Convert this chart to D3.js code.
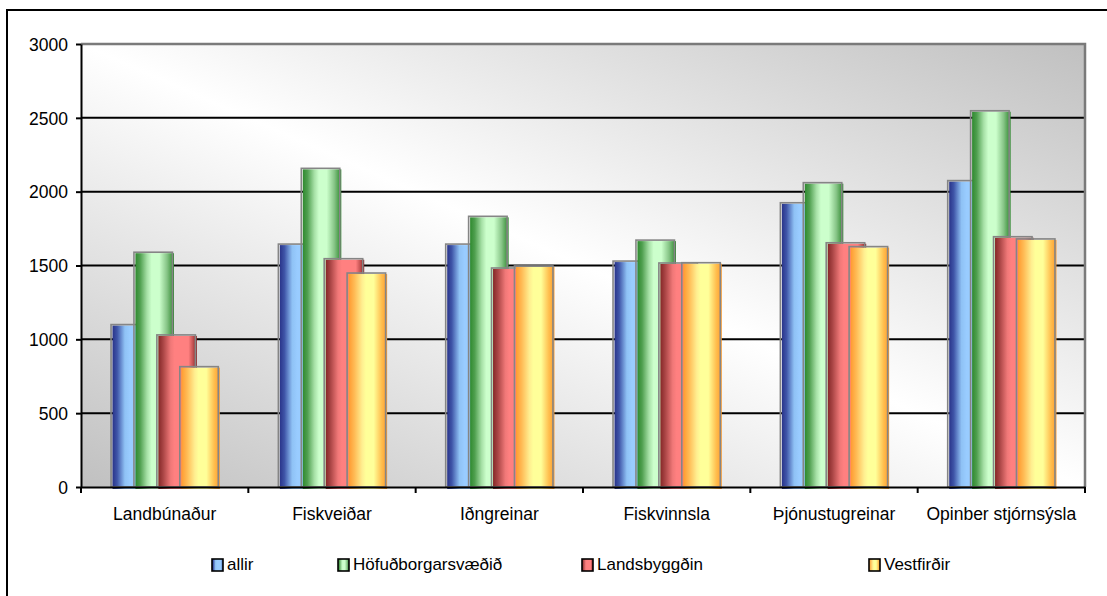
<!DOCTYPE html>
<html>
<head>
<meta charset="utf-8">
<script src="https://cdn.jsdelivr.net/npm/d3@7"></script>
<style>
  html, body { margin: 0; padding: 0; background: #ffffff; }
  svg { display: block; font-family: "Liberation Sans", Arial, sans-serif; }
</style>
</head>
<body>
<svg id="chart" width="1107" height="596"></svg>
<script>
// ---- data ----
const categories = ["Landbúnaður", "Fiskveiðar", "Iðngreinar", "Fiskvinnsla", "Þjónustugreinar", "Opinber stjórnsýsla"];
const seriesNames = ["allir", "Höfuðborgarsvæðið", "Landsbyggðin", "Vestfirðir"];
const allir = [1100, 1645, 1645, 1530, 1925, 2075];
const hofudborgarsvaedid = [1590, 2158, 1833, 1672, 2061, 2548];
const landsbyggdin = [1030, 1546, 1483, 1517, 1654, 1695];
const vestfirdir = [815, 1449, 1497, 1519, 1628, 1680];
const yTicks = [0, 500, 1000, 1500, 2000, 2500, 3000];

const seriesValues = [allir, hofudborgarsvaedid, landsbyggdin, vestfirdir];

// ---- layout ----
const svg = d3.select("#chart");
const plot = { left: 81, right: 1085, top: 44, bottom: 487 };

const y = d3.scaleLinear().domain([0, 3000]).range([plot.bottom, plot.top]);
const x = d3.scaleBand().domain(categories).range([plot.left, plot.right]).padding(0);

// ---- gradients ----
const defs = svg.append("defs");
const bg = defs.append("linearGradient").attr("id", "bgGrad")
  .attr("x1", 0).attr("y1", 1).attr("x2", 1).attr("y2", 0);
bg.append("stop").attr("offset", 0).attr("stop-color", "#c0c0c0");
bg.append("stop").attr("offset", 0.5).attr("stop-color", "#ffffff");
bg.append("stop").attr("offset", 1).attr("stop-color", "#c0c0c0");

const gradStops = [
  [[0, "#29348a"], [0.12, "#3f55a8"], [0.32, "#8fc2f5"], [0.45, "#99ccff"], [0.8, "#99ccff"], [1, "#3f5fb0"]],
  [[0, "#2f8a2f"], [0.12, "#4f9f4f"], [0.3, "#a6e0a6"], [0.42, "#ccffcc"], [0.62, "#ccffcc"], [0.82, "#86c486"], [1, "#2a862a"]],
  [[0, "#862828"], [0.12, "#a84444"], [0.32, "#f07878"], [0.42, "#ff8080"], [0.78, "#ff8080"], [0.9, "#c05050"], [1, "#861c1c"]],
  [[0, "#ff9a30"], [0.15, "#ffbb55"], [0.35, "#ffee90"], [0.45, "#ffff99"], [0.65, "#ffff99"], [0.85, "#ffc050"], [1, "#ff9a2a"]]
];
gradStops.forEach((stops, i) => {
  const g = defs.append("linearGradient").attr("id", "barGrad" + i)
    .attr("x1", 0).attr("y1", 0).attr("x2", 1).attr("y2", 0);
  stops.forEach(s => g.append("stop").attr("offset", s[0]).attr("stop-color", s[1]));
});

// ---- outer frame ----
svg.append("rect").attr("x", 7).attr("y", 10).attr("width", 1120).attr("height", 620)
  .attr("fill", "#ffffff").attr("stroke", "#000000").attr("stroke-width", 2);

// ---- plot background ----
svg.append("rect").attr("x", plot.left).attr("y", plot.top)
  .attr("width", plot.right - plot.left).attr("height", plot.bottom - plot.top)
  .attr("fill", "url(#bgGrad)");

// ---- gridlines ----
svg.append("g").selectAll("line").data(yTicks.filter(t => t > 0 && t < 3000)).join("line")
  .attr("x1", plot.left).attr("x2", plot.right)
  .attr("y1", d => y(d)).attr("y2", d => y(d))
  .attr("stroke", "#000000").attr("stroke-width", 2);

// plot border top/right (gray)
svg.append("path")
  .attr("d", `M${plot.left},${y(3000)}H${plot.right}V${plot.bottom}`)
  .attr("fill", "none").attr("stroke", "#7a7a7a").attr("stroke-width", 2.5);

// ---- bars ----
const nS = seriesNames.length;
const overlap = 0.405;
const bw = x.bandwidth();
const barW = bw / (nS * (1 - overlap) + overlap + 1.56);
const step = barW * (1 - overlap);
const groupW = step * (nS - 1) + barW;

const barsG = svg.append("g");
categories.forEach((cat, ci) => {
  const x0 = x(cat) + (bw - groupW) / 2;
  seriesValues.forEach((vals, si) => {
    const bx = x0 + si * step;
    const by = y(vals[ci]);
    const h = plot.bottom - by;
    barsG.append("rect")
      .attr("x", bx + 1.5).attr("y", by + 1)
      .attr("width", barW).attr("height", h + 1)
      .attr("fill", `url(#barGrad${si})`);
    barsG.append("rect")
      .attr("x", bx).attr("y", by)
      .attr("width", barW).attr("height", h)
      .attr("fill", "none").attr("stroke", "#858585").attr("stroke-width", 1.6);
  });
});

// ---- axes ----
const yAxis = svg.append("g").attr("transform", `translate(${plot.left},0)`)
  .call(d3.axisLeft(y).tickValues(yTicks).tickFormat(d3.format("d"))
    .tickSize(5).tickSizeOuter(0).tickPadding(8));
yAxis.select(".domain").attr("stroke", "#000").attr("stroke-width", 2);
yAxis.selectAll(".tick line").attr("stroke", "#000").attr("stroke-width", 2);
yAxis.selectAll(".tick text").attr("font-size", "17.5px").attr("fill", "#000")
  .attr("font-family", "'Liberation Sans', Arial, sans-serif").attr("dy", "0.36em");

const xAxis = svg.append("g").attr("transform", `translate(0,${plot.bottom})`)
  .call(d3.axisBottom(x).tickSize(0).tickSizeOuter(0).tickPadding(21));
xAxis.select(".domain").attr("stroke", "#000").attr("stroke-width", 2);
xAxis.selectAll(".tick text").attr("font-size", "17.5px").attr("fill", "#000")
  .attr("font-family", "'Liberation Sans', Arial, sans-serif");

// category boundary ticks
const bounds = categories.map(c => x(c)).concat([x(categories[categories.length - 1]) + bw]);
svg.append("g").selectAll("line").data(bounds).join("line")
  .attr("x1", d => d).attr("x2", d => d)
  .attr("y1", plot.bottom).attr("y2", plot.bottom + 6)
  .attr("stroke", "#000").attr("stroke-width", 2);

// ---- legend ----
const legendX = [212, 338, 582, 869];
const legend = svg.append("g");
seriesNames.forEach((name, i) => {
  const g = legend.append("g").attr("transform", `translate(${legendX[i]},559)`);
  g.append("rect").attr("x", 0).attr("y", 0).attr("width", 11).attr("height", 12)
    .attr("fill", `url(#barGrad${i})`).attr("stroke", "#000").attr("stroke-width", 1.6);
  g.append("text").attr("x", 15).attr("y", 11)
    .attr("font-size", "17px").attr("fill", "#000").text(name);
});
</script>
</body>
</html>
